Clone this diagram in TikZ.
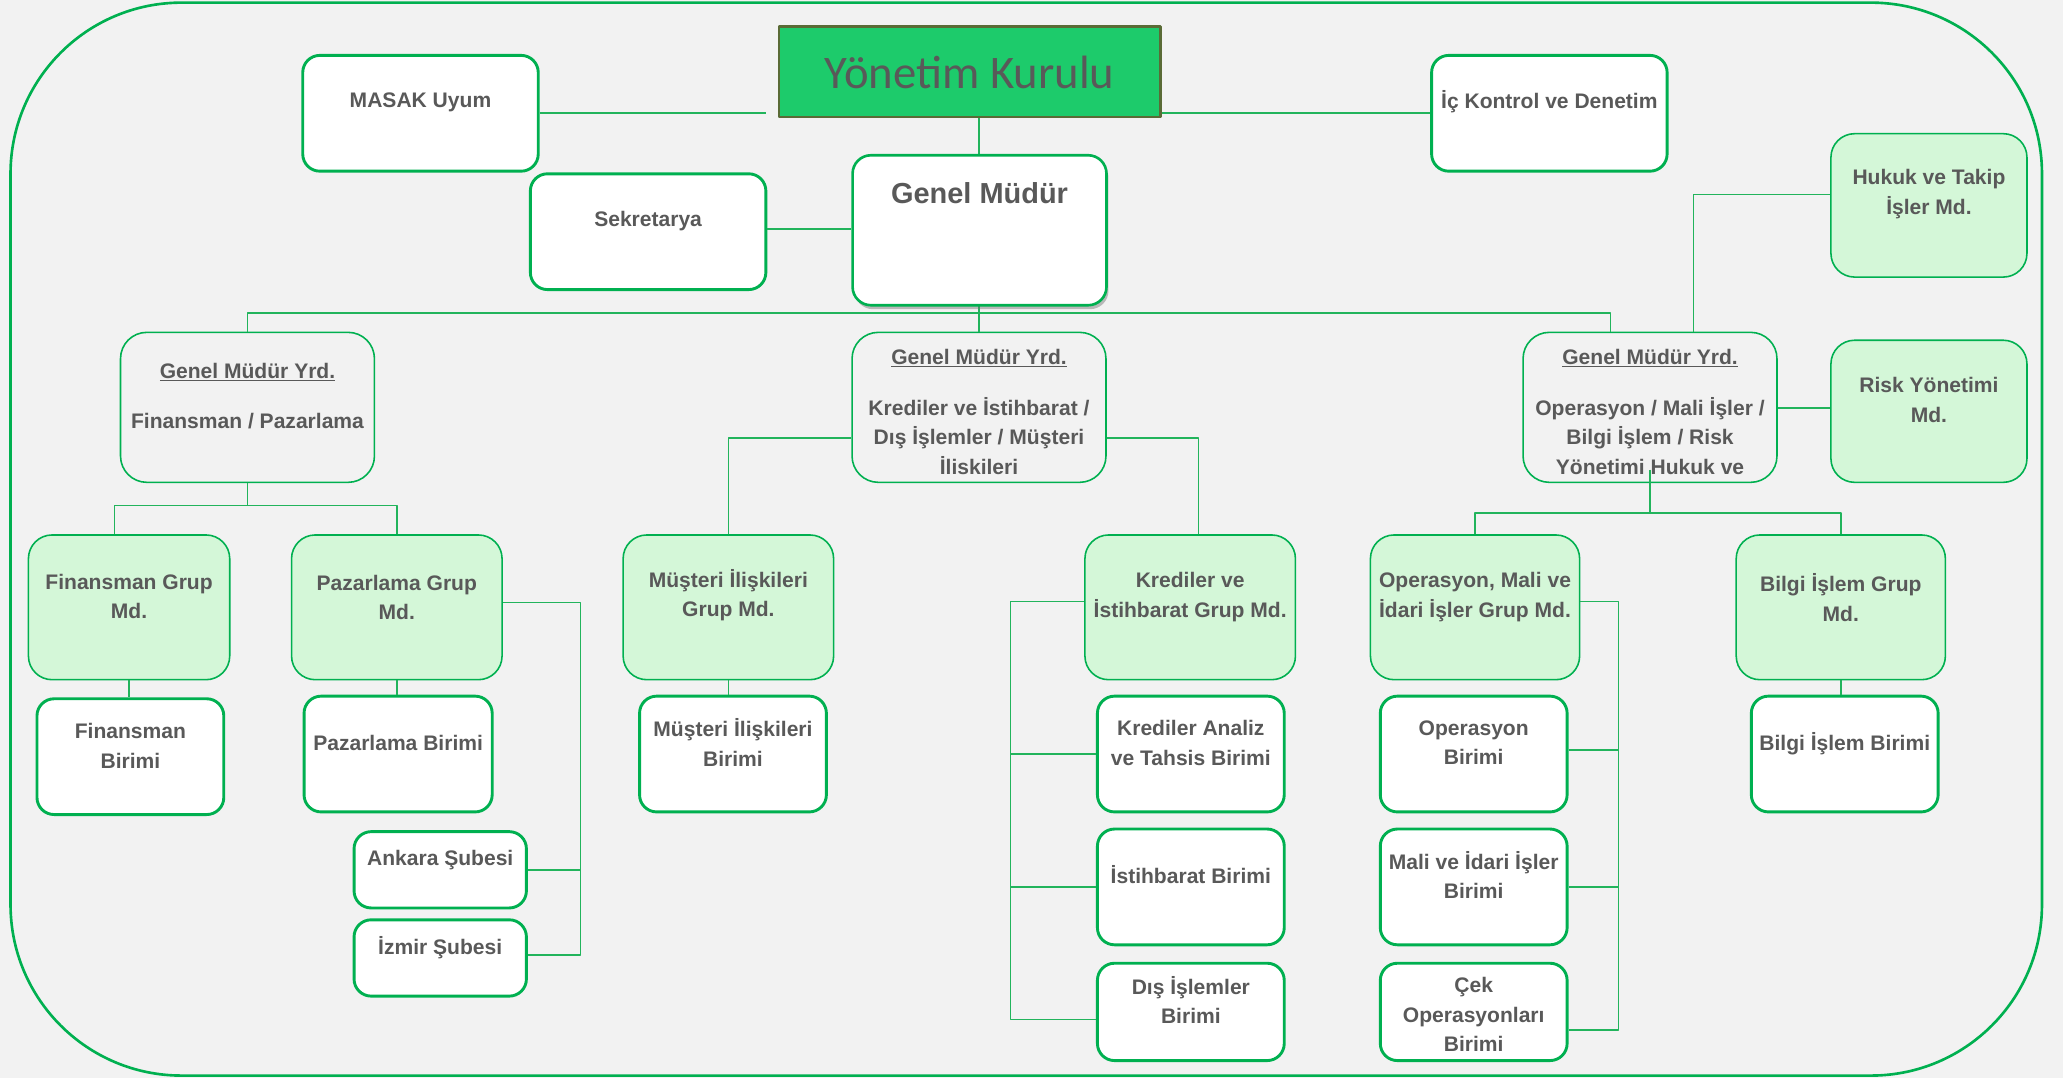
\documentclass[tikz,border=0pt]{standalone}
\usepackage{fontspec}
\setmainfont{Liberation Sans}
\newfontfamily\calib{Carlito}
\usetikzlibrary{shadows}
\definecolor{bg}{HTML}{F2F2F2}
\definecolor{grn}{HTML}{00B050}
\definecolor{lgrn}{HTML}{D4F7D8}
\definecolor{txtc}{HTML}{595959}
\definecolor{ykfill}{HTML}{1DCB6B}
\definecolor{ykdraw}{HTML}{5A6B36}
\definecolor{cgrn}{HTML}{22B45C}
\newcommand\obx[6]{\pgfmathsetmacro\bw{#5-#3}\pgfmathsetmacro\bh{#6-#4}%
  \node[#1,anchor=north west,minimum width=\bw pt,minimum height=\bh pt,inner sep=0pt] (#2) at (#3,#4) {};}
\newcommand\otx[3]{\node[txt] (#1-t) at (#1.center |- 0,#2) {#3};}
\tikzset{
  wbox/.style={draw=grn, fill=white, line width=2.2pt, rounded corners=13pt},
  gmbox/.style={draw=grn, fill=white, line width=2pt, rounded corners=14pt,
     drop shadow={shadow xshift=1.5pt, shadow yshift=-3pt, fill=black!55, opacity=.45}},
  gbox/.style={draw=grn, fill=lgrn, line width=1.2pt, rounded corners=18pt},
  ybox/.style={draw=grn, line width=1.2pt, rounded corners=20pt},
  ykbox/.style={draw=ykdraw, fill=ykfill, line width=2pt},
  conn/.style={draw=cgrn, line width=1.1pt},
  txt/.style={text=txtc, font=\bfseries\fontsize{16}{22.5}\selectfont, align=center, inner sep=0pt}
}
\begin{document}
\begin{tikzpicture}[x=1pt,y=-1pt,line join=round]
\fill[bg] (0,0) rectangle (1568,819);
\useasboundingbox (0,0) rectangle (1568,819);
\draw[grn, line width=2pt, rounded corners=130pt] (8,2) rectangle (1552,817.5);

% ---- nodes (positions) ----
\obx{ykbox}{yk}{591}{19}{881}{88}
\obx{wbox}{masak}{229}{41}{408}{129}
\obx{wbox}{ick}{1087}{41}{1266}{129}
\obx{wbox}{sek}{402}{131}{581}{219}
\obx{gbox}{hukuk}{1391}{101}{1540}{210}
\obx{ybox}{gmy1}{91}{252}{284}{366}
\obx{ybox}{gmy2}{647}{252}{840}{366}
\obx{ybox}{gmy3}{1157}{252}{1350}{366}
\obx{gbox}{risk}{1391}{258}{1540}{366}
\obx{gbox}{fgm}{21}{406}{174}{516}
\obx{gbox}{pgm}{221}{406}{381}{516}
\obx{gbox}{mgm}{473}{406}{633}{516}
\obx{gbox}{kgm}{824}{406}{984}{516}
\obx{gbox}{ogm}{1041}{406}{1200}{516}
\obx{gbox}{bgm}{1319}{406}{1478}{516}
\obx{wbox}{fb}{27}{530}{169}{618}
\obx{wbox}{pb}{230}{528}{373}{616}
\obx{wbox}{ank}{268}{631}{399}{689}
\obx{wbox}{izm}{268}{698}{399}{756}
\obx{wbox}{mb}{485}{528}{627}{616}
\obx{wbox}{kab}{833}{528}{975}{616}
\obx{wbox}{ib}{833}{629}{975}{717}
\obx{wbox}{db}{833}{731}{975}{805}
\obx{wbox}{ob}{1048}{528}{1190}{616}
\obx{wbox}{mib}{1048}{629}{1190}{717}
\obx{wbox}{cb}{1048}{731}{1190}{805}
\obx{wbox}{bb}{1330}{528}{1472}{616}

% ---- connectors ----
\draw[conn] (masak.east |- 0,86) -- ([xshift=-9pt]yk.west |- 0,86);
\draw[conn] (yk.east |- 0,86) -- (ick.west |- 0,86);
\draw[conn] (sek.east |- 0,174) -- (647,174);
\draw[conn] (yk.south -| 744,0) -- (744,117);
\draw[conn] (744,231) -- (gmy2.north -| 744,0);
\draw[conn] (gmy1.north) |- (1224,238) -- (gmy3.north -| 1224,0);
\draw[conn] (hukuk.west |- 0,148) -| (gmy3.north -| 1287,0);
\draw[conn] (gmy3.east |- 0,310) -- (risk.west |- 0,310);
\draw[conn] (gmy1.south) -- (gmy1.south |- 0,384);
\draw[conn] (fgm.north -| 87,0) |- (pgm.north |- 0,384) -- (pgm.north);
\draw[conn] (gmy2.west |- 0,333) -| (mgm.north);
\draw[conn] (gmy2.east |- 0,333) -| (kgm.north -| 911,0);
\draw[conn] ([yshift=10pt]gmy3.south) -- (gmy3.south |- 0,390);
\draw[conn] (ogm.north) |- (bgm.north |- 0,390) -- (bgm.north);
\draw[conn] (fgm.south) -- (fgm.south |- fb.north);
\draw[conn] (pgm.south) -- (pgm.south |- pb.north);
\draw[conn] (pgm.east |- 0,458) -| (441,726) -- (izm.east |- 0,726);
\draw[conn] (ank.east) -- (ank.east -| 441,0);
\draw[conn] (mgm.south) -- (mgm.south |- mb.north);
\draw[conn] (kgm.west |- 0,457) -| (768,775) -- (db.west |- 0,775);
\draw[conn] (kab.west) -- (kab.west -| 768,0);
\draw[conn] (ib.west) -- (ib.west -| 768,0);
\draw[conn] (ogm.east |- 0,457) -| (1230,783) -- (cb.east |- 0,783);
\draw[conn] (ob.east |- 0,570) -- (1230,570);
\draw[conn] (mib.east) -- (mib.east -| 1230,0);
\draw[conn] (bgm.south) -- (bgm.south |- bb.north);

% Genel Mudur box on top of its connectors
\obx{gmbox}{gm}{647}{117}{840}{231}

% ---- texts ----
\node[text=txtc, font=\calib\fontsize{35.5}{40}\selectfont, inner sep=0pt] (yk-t) at (yk.center |- 0,55) {Yönetim Kurulu};
\otx{masak}{78}{MASAK Uyum}
\otx{ick}{77}{İç Kontrol ve Denetim}
\otx{sek}{168}{Sekretarya}
\node[txt, font=\bfseries\fontsize{22}{26}\selectfont] (gm-t) at (gm.center |- 0,147) {Genel Müdür};
\otx{hukuk}{147.5}{Hukuk ve Takip\\İşler Md.}
\otx{gmy1}{301}{\underline{Genel Müdür Yrd.}\\[16pt]Finansman / Pazarlama}
\otx{gmy2}{313}{\underline{Genel Müdür Yrd.}\\[16pt]Krediler ve İstihbarat /\\Dış İşlemler / Müşteri\\İliskileri}
\begin{scope}
\clip[rounded corners=20pt] (1157,252) rectangle (1350,366);
\otx{gmy3}{313}{\underline{Genel Müdür Yrd.}\\[16pt]Operasyon / Mali İşler /\\Bilgi İşlem / Risk\\Yönetimi Hukuk ve}
\end{scope}
\draw[conn] ([yshift=10pt]gmy3.south) -- (gmy3.south);
\otx{risk}{304}{Risk Yönetimi\\Md.}
\otx{fgm}{453.5}{Finansman Grup\\Md.}
\otx{pgm}{454}{Pazarlama Grup\\Md.}
\otx{mgm}{452.5}{Müşteri İlişkileri\\Grup Md.}
\otx{kgm}{454}{Krediler ve\\İstihbarat Grup Md.}
\otx{ogm}{454}{Operasyon, Mali ve\\İdari İşler Grup Md.}
\otx{bgm}{454}{Bilgi İşlem Grup\\Md.}
\otx{fb}{567}{Finansman\\Birimi}
\otx{pb}{565}{Pazarlama Birimi}
\otx{ank}{654}{Ankara Şubesi}
\otx{izm}{720}{İzmir Şubesi}
\otx{mb}{564.5}{Müşteri İlişkileri\\Birimi}
\otx{kab}{564.5}{Krediler Analiz\\ve Tahsis Birimi}
\otx{ib}{665}{İstihbarat Birimi}
\otx{db}{760}{Dış İşlemler\\Birimi}
\otx{ob}{564.5}{Operasyon\\Birimi}
\otx{mib}{665}{Mali ve İdari İşler\\Birimi}
\otx{cb}{771}{Çek\\Operasyonları\\Birimi}
\otx{bb}{565}{Bilgi İşlem Birimi}
\end{tikzpicture}
\end{document}
